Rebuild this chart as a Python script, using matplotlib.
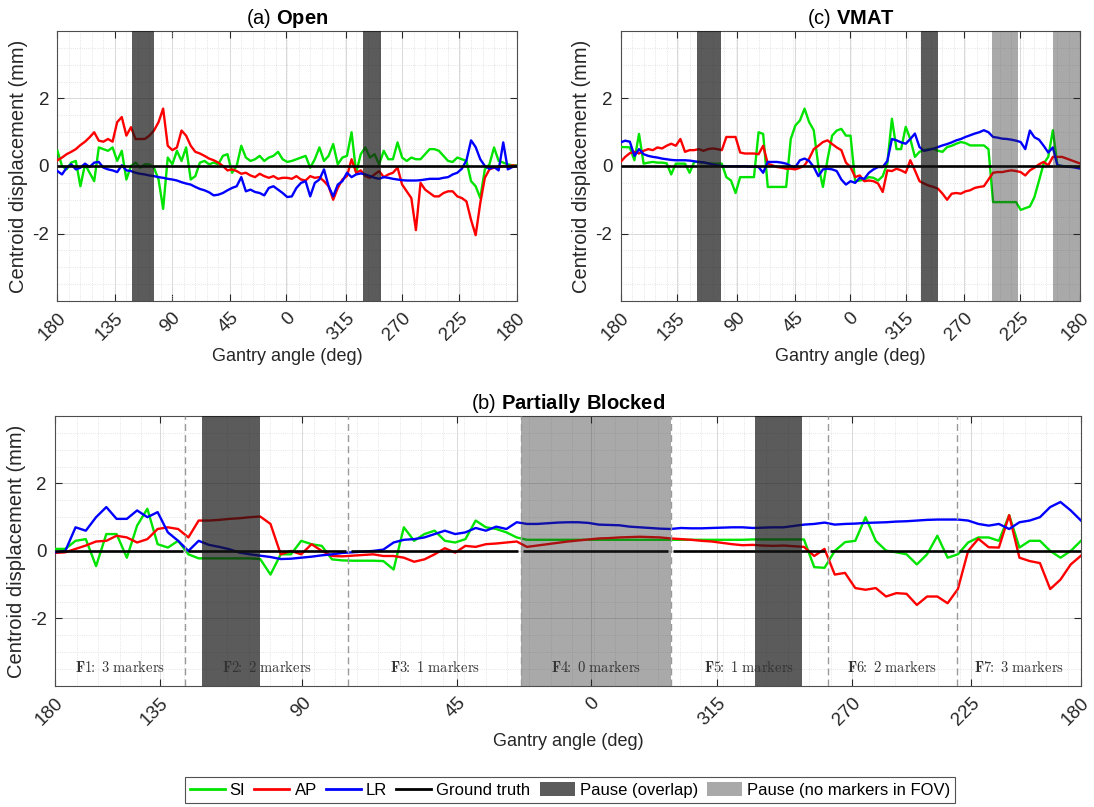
import numpy as np
import matplotlib
matplotlib.use("Agg")
import matplotlib.pyplot as plt
from matplotlib.lines import Line2D
from matplotlib.patches import Patch
from matplotlib.ticker import MultipleLocator, FixedLocator

plt.rcParams['font.family'] = ['Liberation Sans', 'DejaVu Sans']
plt.rcParams['mathtext.fontset'] = 'custom'
plt.rcParams['mathtext.rm'] = 'Liberation Sans'
plt.rcParams['mathtext.bf'] = 'Liberation Sans:bold'

# ---------------- data ----------------
# progress through the arc (% of acquisition), common sample grid
progress = np.arange(0, 101, 1.0)

tick_labels = ['180', '135', '90', '45', '0', '315', '270', '225', '180']
ticks_a = [0, 12.5, 24.9, 37.5, 49.8, 62.8, 75.0, 87.4, 100]
ticks_c = [0, 12.2, 25.3, 37.9, 49.8, 62.0, 74.6, 86.9, 100]
ticks_b = [0, 10.2, 24.1, 39.2, 52.2, 64.5, 77.7, 89.3, 100]

# (a) Open
a_si = [0.45, 0.0, -0.1, 0.1, 0.15, -0.6, 0.05, -0.2, -0.45, 0.55, 0.5,
        0.45, 0.55, 0.15, 0.45, -0.4, 0.0, 0.1, -0.05, 0.05, 0.05,
        -0.05, -0.4, -1.27, 0.25, 0.05, 0.45, 0.15, 0.55, -0.4, -0.3,
        0.1, 0.15, 0.05, 0.1, 0.05, 0.3, 0.35, -0.2, 0.0, 0.6,
        0.25, 0.15, 0.2, 0.3, 0.15, 0.25, 0.3, 0.42, 0.2, 0.12,
        0.15, 0.2, 0.25, 0.3, -0.05, 0.2, 0.55, 0.15, 0.3, 0.65,
        0.05, 0.25, 0.3, 1.0, -0.2, 0.35, 0.55, 0.25, 0.35, 0.05,
        0.45, 0.2, 0.2, 0.7, 0.25, 0.15, 0.25, 0.2, 0.2, 0.35,
        0.5, 0.5, 0.45, 0.3, 0.15, 0.12, 0.25, 0.2, 0.15, -0.45,
        -0.6, -0.95, -0.1, 0.05, 0.55, 0.15, 0.1, 0.05, 0.02, 0.02]
a_ap = [0.17, 0.25, 0.35, 0.42, 0.5, 0.62, 0.72, 0.85, 1.0, 0.75, 0.72,
        0.8, 0.72, 1.3, 1.45, 0.9, 1.15, 0.8, 0.8, 0.8, 0.9,
        1.05, 1.3, 1.7, 0.6, 0.47, 0.55, 1.05, 0.9, 0.6, 0.42,
        0.37, 0.3, 0.22, 0.17, 0.1, 0.0, -0.13, -0.1, -0.15, -0.23,
        -0.2, -0.28, -0.33, -0.23, -0.3, -0.35, -0.3, -0.38, -0.35, -0.35,
        -0.38, -0.3, -0.4, -0.43, -0.3, -0.35, -0.33, -0.45, -0.6, -1.0,
        -0.65, -0.4, -0.3, 0.2, -0.2, -0.13, -0.3, -0.35, -0.25, -0.15,
        -0.33, -0.25, -0.2, -0.05, -0.55, -0.75, -0.95, -1.9, -0.5, -0.7,
        -0.8, -0.9, -0.9, -0.8, -0.75, -0.75, -0.9, -0.95, -1.05, -1.6,
        -2.05, -1.1, -0.35, -0.1, -0.05, -0.03, 0.0, -0.02, 0.02, 0.0]
a_lr = [-0.15, -0.25, -0.05, 0.05, -0.1, -0.05, 0.07, -0.03, 0.1, 0.12, -0.05,
        -0.1, -0.13, -0.18, 0.02, -0.13, -0.15, -0.2, -0.23, -0.25, -0.28,
        -0.3, -0.33, -0.35, -0.38, -0.4, -0.43, -0.48, -0.52, -0.55, -0.62,
        -0.68, -0.72, -0.78, -0.87, -0.85, -0.8, -0.72, -0.65, -0.6, -0.33,
        -0.75, -0.7, -0.77, -0.8, -0.87, -0.65, -0.6, -0.7, -0.8, -0.92,
        -0.9, -0.65, -0.5, -0.45, -0.9, -0.5, -0.4, -0.1, -0.6, -0.9,
        -0.55, -0.45, -0.2, -0.33, -0.25, -0.22, -0.25, -0.3, -0.35, -0.38,
        -0.33, -0.35, -0.38, -0.4, -0.42, -0.43, -0.43, -0.43, -0.42, -0.4,
        -0.38, -0.38, -0.38, -0.35, -0.33, -0.25, -0.2, -0.08, 0.17, 0.76,
        0.56, 0.2, 0.0, -0.08, -0.03, -0.13, 0.7, -0.1, -0.03, 0.0]

# (c) VMAT
c_si = [0.56, 0.56, 0.55, 0.17, 0.95, 0.07, 0.1, 0.12, 0.1, 0.1, 0.08,
        -0.25, 0.07, 0.07, 0.07, -0.2, 0.12, 0.12, 0.1, 0.08, 0.07,
        0.07, 0.07, -0.33, -0.43, -0.8, -0.33, -0.33, -0.33, -0.33, 1.0,
        0.95, -0.62, -0.62, -0.62, -0.62, -0.62, 0.8, 1.2, 1.35, 1.7,
        1.3, 1.06, 0.0, -0.62, 0.2, 0.9, 1.05, 1.1, 0.9, 0.9,
        -0.45, -0.43, -0.4, -0.33, -0.35, -0.43, -0.3, 0.07, 1.4, 0.5,
        0.5, 1.16, 0.8, 0.27, 0.42, 0.47, 0.5, 0.51, 0.45, 0.42,
        0.56, 0.6, 0.66, 0.71, 0.68, 0.61, 0.61, 0.61, 0.61, 0.5,
        -1.07, -1.07, -1.07, -1.07, -1.07, -1.07, -1.3, -1.25, -1.2, -0.92,
        -0.43, 0.07, 0.27, 1.06, 0.02, 0.0, -0.01, -0.02, -0.03, -0.03]
c_ap = [0.12, 0.27, 0.38, 0.42, 0.37, 0.45, 0.5, 0.47, 0.55, 0.52, 0.6,
        0.66, 0.6, 0.8, 0.42, 0.47, 0.47, 0.5, 0.45, 0.5, 0.52,
        0.5, 0.47, 0.86, 0.86, 0.86, 0.4, 0.37, 0.37, 0.37, 0.35,
        0.6, 0.07, 0.02, -0.03, -0.05, -0.08, -0.08, -0.1, -0.05, 0.02,
        0.22, 0.5, 0.6, 0.71, 0.76, 0.65, 0.55, 0.47, 0.1, -0.03,
        -0.33, -0.28, -0.45, -0.43, -0.45, -0.52, -0.77, -0.13, -0.15, -0.08,
        -0.13, -0.2, 0.17, -0.13, -0.45, -0.52, -0.58, -0.62, -0.67, -0.82,
        -1.0, -0.82, -0.8, -0.82, -0.75, -0.72, -0.65, -0.62, -0.6, -0.4,
        -0.2, -0.18, -0.18, -0.15, -0.13, -0.15, -0.18, -0.28, -0.13, -0.05,
        0.05, 0.12, 0.02, 0.27, 0.27, 0.27, 0.22, 0.17, 0.12, 0.07]
c_lr = [0.7, 0.75, 0.72, 0.3, 0.5, 0.35, 0.3, 0.27, 0.25, 0.22, 0.2,
        0.18, 0.17, 0.17, 0.17, 0.16, 0.14, 0.12, 0.11, 0.08, 0.05,
        0.02, 0.0, -0.01, -0.01, -0.01, -0.01, -0.01, -0.02, -0.02, -0.03,
        -0.2, 0.12, 0.12, 0.12, 0.1, 0.07, 0.0, -0.03, 0.17, 0.22,
        0.15, -0.03, -0.3, -0.1, -0.08, -0.1, -0.15, -0.4, -0.55, -0.45,
        -0.5, -0.35, -0.38, -0.2, -0.1, -0.03, -0.03, 0.15, 0.8, 0.76,
        0.7, 0.66, 0.8, 0.96, 0.56, 0.45, 0.48, 0.51, 0.56, 0.61,
        0.65, 0.7, 0.76, 0.8, 0.86, 0.91, 0.96, 1.0, 1.06, 1.0,
        0.86, 0.84, 0.81, 0.8, 0.78, 0.75, 0.71, 0.5, 1.05, 0.85,
        0.78, 0.6, 0.4, 0.55, 0.02, 0.0, -0.02, -0.03, -0.05, -0.08]

# (b) Partially Blocked
b_si = [0.06, 0.06, 0.3, 0.35, -0.45, 0.5, 0.5, -0.2, 0.75, 1.25, 0.2,
        0.1, 0.3, -0.1, -0.22, -0.22, -0.22, -0.22, -0.22, -0.22, -0.24,
        -0.7, -0.1, -0.1, 0.3, 0.2, 0.15, -0.25, -0.28, -0.29, -0.29,
        -0.29, -0.3, -0.55, 0.7, 0.3, 0.5, 0.6, 0.3, 0.25, 0.35,
        0.9, 0.7, 0.65, 0.55, 0.4, 0.33, 0.33, 0.33, 0.33, 0.33,
        0.33, 0.33, 0.33, 0.33, 0.33, 0.33, 0.33, 0.33, 0.33, 0.33,
        0.33, 0.33, 0.33, 0.33, 0.33, 0.33, 0.33, 0.34, 0.34, 0.34,
        0.34, 0.34, 0.34, -0.48, -0.5, 0.0, 0.26, 0.3, 1.0, 0.3,
        0.01, -0.04, -0.1, -0.4, -0.1, 0.45, -0.2, -0.1, 0.25, 0.4,
        0.4, 0.3, 1.06, 0.1, 0.3, 0.3, 0.0, -0.2, 0.0, 0.3]
b_ap = [-0.06, -0.04, 0.06, 0.16, 0.28, 0.3, 0.45, 0.4, 0.25, 0.35, 0.65,
        0.7, 0.65, 0.4, 0.9, 0.9, 0.92, 0.95, 0.97, 1.0, 1.02,
        0.8, -0.1, 0.0, -0.1, 0.2, 0.0, -0.15, -0.16, -0.14, -0.12,
        -0.1, -0.15, -0.15, -0.2, -0.32, -0.25, -0.1, 0.08, -0.05, 0.15,
        0.12, 0.2, 0.22, 0.25, 0.28, 0.12, 0.16, 0.2, 0.24, 0.28,
        0.31, 0.34, 0.37, 0.38, 0.4, 0.41, 0.42, 0.41, 0.4, 0.37,
        0.35, 0.33, 0.3, 0.28, 0.24, 0.2, 0.17, 0.18, 0.16, 0.15,
        0.16, 0.14, 0.12, -0.15, 0.06, -0.7, -0.65, -1.1, -1.15, -1.1,
        -1.35, -1.25, -1.27, -1.6, -1.35, -1.35, -1.55, -1.13, 0.0, 0.36,
        0.11, 0.1, 1.06, -0.2, -0.3, -0.36, -1.13, -0.85, -0.4, -0.14]
b_lr = [-0.04, 0.0, 0.7, 0.6, 1.0, 1.3, 0.95, 0.95, 1.2, 1.0, 1.15,
        0.55, 0.3, 0.0, 0.3, 0.18, 0.12, 0.05, -0.05, -0.1, -0.14,
        -0.18, -0.24, -0.23, -0.2, -0.17, -0.13, -0.1, -0.06, -0.04, -0.02,
        0.0, 0.04, 0.25, 0.33, 0.35, 0.4, 0.5, 0.6, 0.5, 0.55,
        0.68, 0.6, 0.72, 0.65, 0.85, 0.8, 0.8, 0.82, 0.84, 0.85,
        0.85, 0.83, 0.78, 0.77, 0.76, 0.72, 0.7, 0.68, 0.66, 0.65,
        0.68, 0.67, 0.67, 0.68, 0.69, 0.7, 0.7, 0.68, 0.69, 0.7,
        0.7, 0.74, 0.78, 0.8, 0.84, 0.78, 0.8, 0.81, 0.83, 0.84,
        0.85, 0.87, 0.88, 0.9, 0.92, 0.93, 0.93, 0.93, 0.9, 0.8,
        0.75, 0.8, 0.65, 0.85, 0.9, 1.0, 1.3, 1.45, 1.2, 0.9]

# pauses (start, end) in % of arc
pause_overlap_a = [(16.2, 21.0), (66.5, 70.4)]
pause_overlap_c = [(16.7, 21.9), (65.3, 69.0)]
pause_nofov_c = [(80.7, 86.4), (94.0, 100.0)]
pause_overlap_b = [(14.3, 20.0), (68.2, 72.8)]
pause_nofov_b = [(45.4, 60.0)]
frame_edges_b = [0, 12.7, 28.6, 45.4, 60.0, 75.3, 87.9, 100]
frame_markers_b = [3, 2, 1, 0, 1, 2, 3]

# ---------------- style ----------------
C_SI, C_AP, C_LR = '#00e400', '#ff0000', '#0000ff'
DARK_C, DARK_A = '#151515', 0.70
LIGHT_C, LIGHT_A = '#2a2a2a', 0.40
TXT = '#262626'
FS_TICK = 13.5
FS_XLAB = 13
FS_YLAB = 14.5
FS_TITLE = 14.5

fig = plt.figure(figsize=(10.94, 8.07), dpi=100)


def style_axes(ax, ticks, minor_step):
    ax.set_xlim(0, 100)
    ax.set_ylim(-4, 4)
    ax.set_yticks([-2, 0, 2])
    ax.set_yticklabels(['-2', '0', '2'])
    ax.yaxis.set_minor_locator(MultipleLocator(0.5))
    ax.xaxis.set_major_locator(FixedLocator(ticks))
    ax.set_xticklabels(tick_labels, rotation=45, ha='right', va='top',
                       rotation_mode='anchor')
    ax.xaxis.set_minor_locator(MultipleLocator(minor_step))
    ax.tick_params(which='major', direction='in', length=5, width=0.8,
                   top=True, right=True, labelsize=FS_TICK, colors=TXT, pad=6)
    ax.tick_params(which='minor', length=0, top=True, right=True)
    ax.grid(which='major', color='#d8d8d8', lw=0.7, ls='-')
    ax.grid(which='minor', color='#dcdcdc', lw=0.6, ls=':')
    ax.set_axisbelow(True)
    for s in ax.spines.values():
        s.set_color('#4d4d4d')
        s.set_linewidth(0.8)
    ax.set_xlabel('Gantry angle (deg)', fontsize=FS_XLAB, color=TXT, labelpad=3)
    ax.set_ylabel('Centroid displacement (mm)', fontsize=FS_YLAB, color=TXT,
                  labelpad=3)


def draw_series(ax, si, ap, lr, gt_edges=(0, 100)):
    ax.plot(progress, si, color=C_SI, lw=1.7, zorder=3)
    ax.plot(progress, ap, color=C_AP, lw=1.7, zorder=3)
    ax.plot(progress, lr, color=C_LR, lw=1.7, zorder=3)
    for i in range(len(gt_edges) - 1):
        g0 = gt_edges[i] + (0.25 if i > 0 else 0)
        g1 = gt_edges[i + 1] - (0.25 if i < len(gt_edges) - 2 else 0)
        ax.plot([g0, g1], [0, 0], color='black', lw=1.9, zorder=4,
                solid_capstyle='butt')


def shade(ax, dark, light):
    for x0, x1 in dark:
        ax.axvspan(x0, x1, color=DARK_C, alpha=DARK_A, lw=0, zorder=5)
    for x0, x1 in light:
        ax.axvspan(x0, x1, color=LIGHT_C, alpha=LIGHT_A, lw=0, zorder=5)


# (a) Open
ax_a = fig.add_axes([0.0525, 0.627, 0.4201, 0.3346])
draw_series(ax_a, a_si, a_ap, a_lr)
shade(ax_a, pause_overlap_a, [])
style_axes(ax_a, ticks_a, 2.5)
ax_a.set_title(r'(a) $\mathbf{Open}$', fontsize=FS_TITLE, pad=5)

# (c) VMAT
ax_c = fig.add_axes([0.5673, 0.627, 0.4203, 0.3346])
draw_series(ax_c, c_si, c_ap, c_lr)
shade(ax_c, pause_overlap_c, pause_nofov_c)
style_axes(ax_c, ticks_c, 2.5)
ax_c.set_title(r'(c) $\mathbf{VMAT}$', fontsize=FS_TITLE, pad=5)

# (b) Partially Blocked
ax_b = fig.add_axes([0.0503, 0.150, 0.9378, 0.3346])
draw_series(ax_b, b_si, b_ap, b_lr, gt_edges=frame_edges_b)
shade(ax_b, pause_overlap_b, pause_nofov_b)
style_axes(ax_b, ticks_b, 2.1)
ax_b.set_title(r'(b) $\mathbf{Partially\ Blocked}$', fontsize=FS_TITLE, pad=5)
for xe in frame_edges_b[1:-1]:
    ax_b.axvline(xe, color='#9a9a9a', lw=1.0, ls=(0, (5, 3)), zorder=6)
for i, nm in enumerate(frame_markers_b):
    xc = 0.5 * (frame_edges_b[i] + frame_edges_b[i + 1])
    ax_b.text(xc, -3.45,
              r'$\mathbf{F%d}\hspace{-0.25}\mathbf{:}\hspace{0.3}\mathrm{%d\ markers}$'
              % (i + 1, nm),
              math_fontfamily='cm', fontsize=10.5, ha='center', va='center',
              color='#333333', zorder=7)

# legend
handles = [
    Line2D([], [], color=C_SI, lw=2),
    Line2D([], [], color=C_AP, lw=2),
    Line2D([], [], color=C_LR, lw=2),
    Line2D([], [], color='black', lw=2),
    Patch(facecolor=DARK_C, alpha=DARK_A, edgecolor='none'),
    Patch(facecolor=LIGHT_C, alpha=LIGHT_A, edgecolor='none'),
]
labels = ['SI', 'AP', 'LR', 'Ground truth', 'Pause (overlap)',
          'Pause (no markers in FOV)']
leg = fig.legend(handles, labels, loc='center', bbox_to_anchor=(0.521, 0.021),
                 ncol=6, fontsize=12, frameon=True, fancybox=False,
                 edgecolor='#262626', handlelength=2.1, handleheight=0.9,
                 handletextpad=0.3, columnspacing=0.55, borderpad=0.3)
leg.get_frame().set_linewidth(0.8)

fig.savefig('out.png', dpi=100)
